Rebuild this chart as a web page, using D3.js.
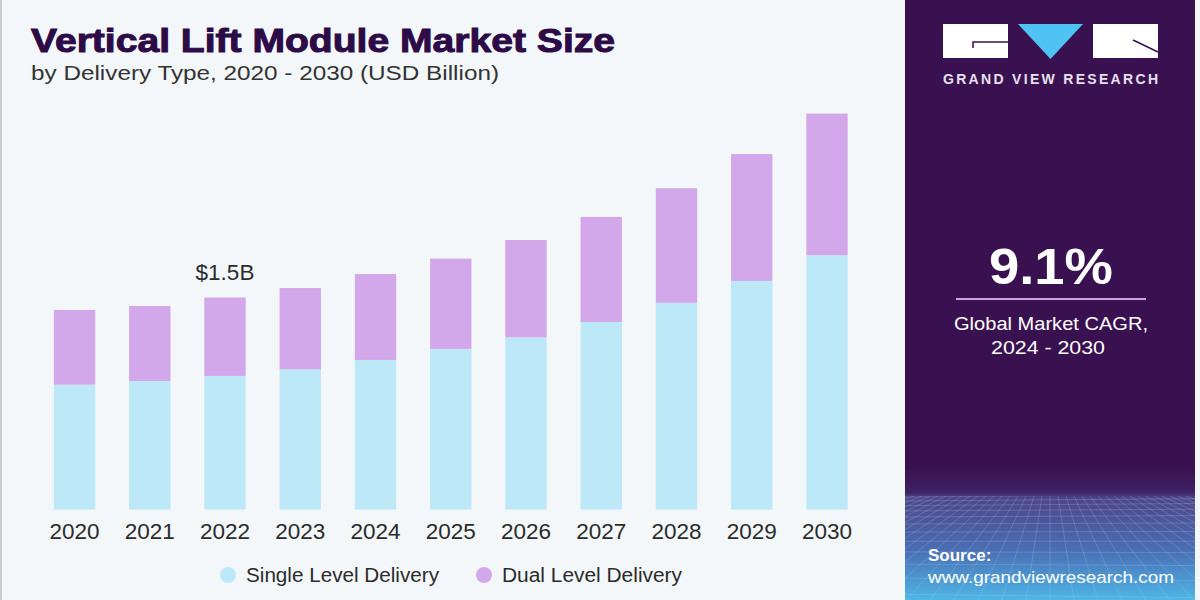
<!DOCTYPE html>
<html><head><meta charset="utf-8">
<script src="https://cdn.jsdelivr.net/npm/d3@7"></script>
<style>html,body{margin:0;padding:0;background:#f3f7fa;}svg{display:block;}</style>
</head><body><svg id="c" width="1200" height="600"></svg>
<script>
const years = ["2020","2021","2022","2023","2024","2025","2026","2027","2028","2029","2030"];
const singleLevel = [0.883,0.909,0.945,0.992,1.058,1.136,1.218,1.327,1.463,1.617,1.799];
const dualLevel   = [0.529,0.531,0.555,0.575,0.608,0.639,0.689,0.743,0.810,0.898,1.002];
const seriesNames = ["Single Level Delivery","Dual Level Delivery"];
const seriesColors = ["#bde8f8","#d3a8eb"];
const annotations = [{year:"2022", label:"$1.5B"}];

const svg = d3.select("#c");
svg.append("rect").attr("width",1200).attr("height",600).attr("fill","#f3f7fa");
svg.append("rect").attr("x",0).attr("y",0).attr("width",2).attr("height",600).attr("fill","#c9ccd0");

const x = d3.scaleBand().domain(years).range([36.9,864.6]).paddingInner(0.45).paddingOuter(0.225);
const y = d3.scaleLinear().domain([0,3]).range([509.5,85.5]);

const rows = years.map((yr,i)=>({year:yr, single:singleLevel[i], dual:dualLevel[i]}));
const stack = d3.stack().keys(["single","dual"])(rows);

svg.append("g").selectAll("g").data(stack).join("g")
  .attr("fill",(d,i)=>seriesColors[i])
  .selectAll("rect").data(d=>d).join("rect")
  .attr("x",d=>x(d.data.year)).attr("width",x.bandwidth())
  .attr("y",d=>y(d[1])).attr("height",d=>y(d[0])-y(d[1]));

// x axis labels
const xAxis = d3.axisBottom(x).tickSize(0).tickPadding(0);
const gx = svg.append("g").attr("transform","translate(0,522)").call(xAxis);
gx.select(".domain").remove();
gx.selectAll("text").attr("font-family","Liberation Sans, Arial, sans-serif")
  .attr("font-size",22.5).attr("fill","#2b2b2b").attr("dy","0.76em");

// annotation
annotations.forEach(a=>{
  const i = years.indexOf(a.year);
  svg.append("text").attr("x",x(a.year)+x.bandwidth()/2).attr("y",y(singleLevel[i]+dualLevel[i])-18)
    .attr("text-anchor","middle").attr("font-family","Liberation Sans, Arial, sans-serif")
    .attr("font-size",22.5).attr("fill","#2b2b2b").text(a.label);
});

// title
svg.append("text").attr("x",31).attr("y",52).attr("font-family","Liberation Sans, Arial, sans-serif")
  .attr("font-weight","900").attr("font-size",33).attr("fill","#2d0b47")
  .attr("textLength",584).attr("lengthAdjust","spacingAndGlyphs").attr("stroke","#2d0b47").attr("stroke-width",1)
  .text("Vertical Lift Module Market Size");
svg.append("text").attr("x",31).attr("y",80).attr("font-family","Liberation Sans, Arial, sans-serif")
  .attr("font-size",20).attr("fill","#333").attr("textLength",468).attr("lengthAdjust","spacingAndGlyphs")
  .text("by Delivery Type, 2020 - 2030 (USD Billion)");

// legend
const leg = svg.append("g");
const legX = [228, 484];
const legW = [193, 180];
seriesNames.forEach((n,i)=>{
  leg.append("circle").attr("cx",legX[i]).attr("cy",575).attr("r",8).attr("fill",seriesColors[i]);
  leg.append("text").attr("x",legX[i]+18).attr("y",582).attr("font-family","Liberation Sans, Arial, sans-serif")
    .attr("font-size",20).attr("fill","#2b2b2b")
    .attr("textLength",legW[i]).attr("lengthAdjust","spacingAndGlyphs").text(n);
});

// right panel
const defs = svg.append("defs");
const grad = defs.append("linearGradient").attr("id","pg").attr("x1",0).attr("y1",0).attr("x2",0).attr("y2",1);
grad.append("stop").attr("offset","0").attr("stop-color","#3a1150");
grad.append("stop").attr("offset","0.78").attr("stop-color","#3a1150");
grad.append("stop").attr("offset","0.82").attr("stop-color","#3f2265");
grad.append("stop").attr("offset","0.83").attr("stop-color","#4f4488");
grad.append("stop").attr("offset","0.92").attr("stop-color","#4a70b6");
grad.append("stop").attr("offset","1").attr("stop-color","#4fb6e6");
svg.append("rect").attr("x",905).attr("y",0).attr("width",290).attr("height",600).attr("fill","url(#pg)");

// perspective grid at bottom of panel
const clip = defs.append("clipPath").attr("id","pc");
clip.append("rect").attr("x",905).attr("y",496).attr("width",290).attr("height",104);
const grid = svg.append("g").attr("stroke","#a8d6f2").attr("stroke-opacity",0.3).attr("stroke-width",0.8)
  .attr("fill","none").attr("clip-path","url(#pc)");
let gy = 497, dy = 4;
while (gy < 600) { grid.append("line").attr("x1",905).attr("x2",1195).attr("y1",gy).attr("y2",gy+(gy-540)*0.06); gy += dy; dy *= 1.15; }
for (let k=-24;k<=24;k++){
  grid.append("line").attr("x1",1050+k*8).attr("y1",496).attr("x2",1050+k*24).attr("y2",600);
}

// logo
svg.append("rect").attr("x",943).attr("y",24).attr("width",65).attr("height",34).attr("fill","#ffffff");
svg.append("path").attr("d","M973,48 L973,42 L1008,42").attr("stroke","#3a1150").attr("stroke-width",1.5).attr("fill","none");
svg.append("path").attr("d","M1018,24 L1083,24 L1050.5,59 Z").attr("fill","#4fc3f3");
svg.append("rect").attr("x",1093).attr("y",24).attr("width",65).attr("height",34).attr("fill","#ffffff");
svg.append("path").attr("d","M1133,40 L1158,52").attr("stroke","#3a1150").attr("stroke-width",1.5);
svg.append("text").attr("x",943).attr("y",84).attr("font-family","Liberation Sans, Arial, sans-serif")
  .attr("font-weight","bold").attr("font-size",14).attr("fill","#e6e0ee")
  .attr("textLength",215).attr("lengthAdjust","spacing").text("GRAND VIEW RESEARCH");

// CAGR
svg.append("text").attr("x",1051).attr("y",284).attr("text-anchor","middle").attr("font-family","Liberation Sans, Arial, sans-serif")
  .attr("font-weight","bold").attr("font-size",50).attr("fill","#ffffff")
  .attr("textLength",124).attr("lengthAdjust","spacingAndGlyphs").text("9.1%");
svg.append("line").attr("x1",956).attr("x2",1146).attr("y1",299).attr("y2",299).attr("stroke","#c9a6e0").attr("stroke-width",2);
svg.append("text").attr("x",1051).attr("y",330).attr("text-anchor","middle").attr("font-family","Liberation Sans, Arial, sans-serif")
  .attr("font-size",19).attr("fill","#ffffff").attr("textLength",194).attr("lengthAdjust","spacingAndGlyphs").text("Global Market CAGR,");
svg.append("text").attr("x",1048).attr("y",354).attr("text-anchor","middle").attr("font-family","Liberation Sans, Arial, sans-serif")
  .attr("font-size",19).attr("fill","#ffffff").attr("textLength",114).attr("lengthAdjust","spacingAndGlyphs").text("2024 - 2030");

// source
svg.append("text").attr("x",928).attr("y",561).attr("font-family","Liberation Sans, Arial, sans-serif")
  .attr("font-weight","bold").attr("font-size",17).attr("fill","#ffffff").text("Source:");
svg.append("text").attr("x",928).attr("y",583).attr("font-family","Liberation Sans, Arial, sans-serif")
  .attr("font-size",17).attr("fill","#ffffff").attr("textLength",246).attr("lengthAdjust","spacingAndGlyphs").text("www.grandviewresearch.com");
</script></body></html>
